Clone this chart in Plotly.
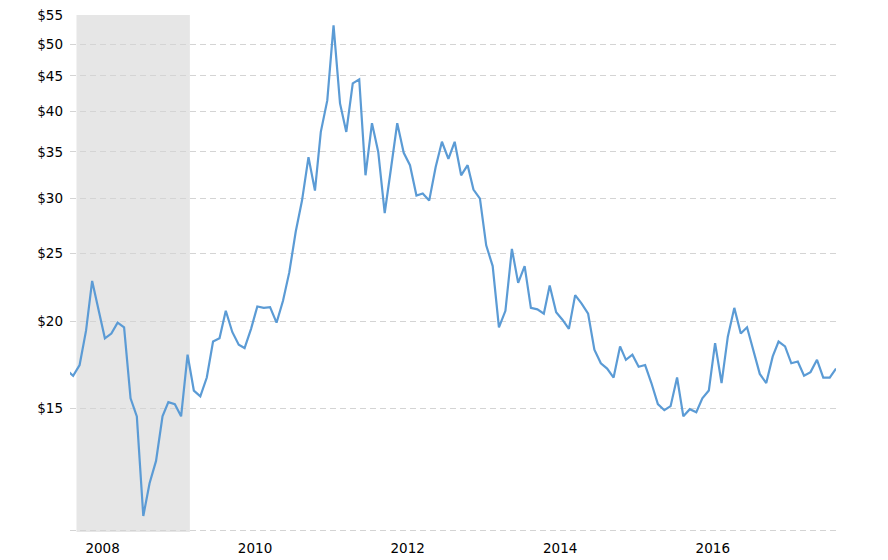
import math
import pandas as pd
import plotly.graph_objects as go

# Monthly silver price (USD/oz)
prices = [
    17.0, 16.7, 17.3, 19.4, 22.85, 20.8, 18.9, 19.2, 19.9, 19.6,
    15.5, 14.6, 10.5, 11.7, 12.6, 14.6, 15.3, 15.2, 14.6, 17.9,
    15.9, 15.6, 16.6, 18.7, 18.9, 20.7, 19.3, 18.5, 18.3, 19.5,
    21.0, 20.9, 20.95, 19.9, 21.4, 23.5, 26.9, 29.8, 34.4, 30.8,
    37.4, 41.5, 53.2, 41.1, 37.4, 43.9, 44.5, 32.4, 38.5, 35.0,
    28.6, 33.3, 38.5, 34.9, 33.5, 30.3, 30.5, 29.8, 33.3, 36.2,
    34.2, 36.2, 32.4, 33.5, 30.9, 30.0, 25.7, 24.0, 19.6, 20.7,
    25.4, 22.7, 24.0, 20.9, 20.8, 20.5, 22.5, 20.6, 20.1, 19.5,
    21.8, 21.2, 20.5, 18.2, 17.4, 17.1, 16.6, 18.4, 17.6, 17.9,
    17.2, 17.3, 16.3, 15.2, 14.9, 15.1, 16.6, 14.6, 14.95, 14.8,
    15.5, 15.9, 18.6, 16.3, 19.0, 20.9, 19.2, 19.6, 18.1, 16.8,
    16.3, 17.8, 18.7, 18.4, 17.4, 17.5, 16.7, 16.9, 17.6, 16.6,
    16.6, 17.1,
]
dates = pd.date_range("2007-11-01", periods=len(prices), freq="MS")

# Recession band
recession_start = "2007-12-17"
recession_end = "2009-06-12"

# Axis ticks
y_tick_values = [10, 15, 20, 25, 30, 35, 40, 45, 50, 55]
y_tick_labels = ["", "$15", "$20", "$25", "$30", "$35", "$40", "$45", "$50", "$55"]
x_tick_values = ["2008-04-20", "2010-04-20", "2012-04-20", "2014-04-20", "2016-04-20"]
x_tick_labels = ["2008", "2010", "2012", "2014", "2016"]

x_range = ["2007-11-16", "2017-12-01"]
y_range = [math.log10(9.96), math.log10(55.05)]

fig = go.Figure()
fig.add_trace(go.Scatter(
    x=dates, y=prices, mode="lines",
    line=dict(color="#5b9bd5", width=2.2),
    hoverinfo="x+y", showlegend=False,
))

fig.add_shape(
    type="rect", xref="x", yref="paper",
    x0=recession_start, x1=recession_end, y0=0, y1=1,
    fillcolor="#e6e6e6", line=dict(width=0), layer="below",
)

font_family = "DejaVu Sans, Verdana, sans-serif"
fig.update_layout(
    width=888, height=560,
    margin=dict(l=70, r=52, t=15, b=28),
    paper_bgcolor="white", plot_bgcolor="white",
    font=dict(family=font_family, size=13.5, color="#000000"),
    xaxis=dict(
        type="date", range=x_range, automargin=False,
        tickvals=x_tick_values, ticktext=x_tick_labels,
        showgrid=False, zeroline=False, showline=False,
        ticks="", ticklabelstandoff=6,
    ),
    yaxis=dict(
        type="log", range=y_range, automargin=False,
        tickvals=y_tick_values, ticktext=y_tick_labels,
        showgrid=True, gridcolor="#d4d4d4", gridwidth=1, griddash="6px,4px",
        zeroline=False, showline=False, ticks="",
        ticklabelstandoff=6,
    ),
)

fig.write_html(
    "out.html",
    config={"displayModeBar": False},
    post_script="document.body.style.margin='0';",
)
